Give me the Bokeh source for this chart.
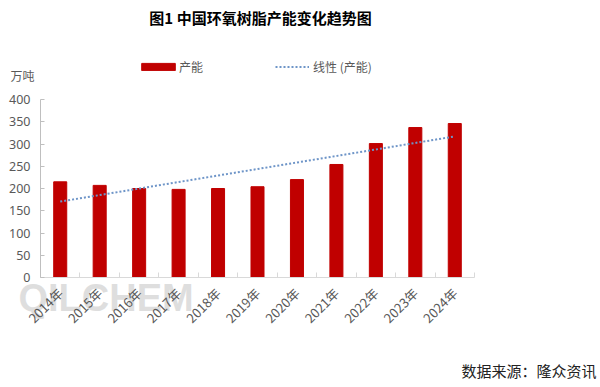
import numpy as np
from bokeh.plotting import figure
from bokeh.models import (ColumnDataSource, FixedTicker, Range1d, Label, Legend, LegendItem)
from bokeh.embed import file_html
from bokeh.resources import INLINE

# ---- data ----
years = ["2014年", "2015年", "2016年", "2017年", "2018年", "2019年",
         "2020年", "2021年", "2022年", "2023年", "2024年"]
capacity = [215, 207, 200, 198, 200, 204, 220, 254, 301, 337, 346]
y_ticks = [0, 50, 100, 150, 200, 250, 300, 350, 400]

title_text = "图1 中国环氧树脂产能变化趋势图"
unit_text = "万吨"
source_text = "数据来源：隆众资讯"
series_name = "产能"
trend_name = "线性 (产能)"

xs = list(range(len(years)))
# linear trend line of the series (Excel "linear" trendline)
slope, intercept = np.polyfit(xs, capacity, 1)
trend = [intercept + slope * x for x in xs]

src = ColumnDataSource(dict(x=xs, y=capacity, t=trend))

CJK = "Noto Sans CJK SC"
GRAY = "#595959"

# ---- layout (pixels) ----
W, H = 600, 387
AX_LEFT, AX_RIGHT = 40, 474      # plot area in page pixels
AX_TOP, AX_BOTTOM = 99, 277
n = len(years)
ymax = 400
px_x = (AX_RIGHT - AX_LEFT) / n
px_y = (AX_BOTTOM - AX_TOP) / ymax
x_lo = -0.5 - AX_LEFT / px_x
x_hi = n - 0.5 + (W - AX_RIGHT) / px_x
y_lo = -(H - AX_BOTTOM) / px_y
y_hi = ymax + AX_TOP / px_y

p = figure(width=W, height=H, output_backend="svg", toolbar_location=None,
           x_range=Range1d(x_lo, x_hi), y_range=Range1d(y_lo, y_hi),
           min_border=0, outline_line_color=None,
           background_fill_color="white", border_fill_color="white")

p.xgrid.visible = False
p.ygrid.visible = False

# watermark
p.add_layout(Label(x=18, y=H - 318, x_units="screen", y_units="screen",
                   text="QILCHEM", text_font="Liberation Sans", text_font_style="bold",
                   text_font_size="38px", text_color="#bdbdbd", text_alpha=0.5,
                   text_baseline="bottom", level="underlay"))

bars = p.vbar(x="x", top="y", width=0.33, source=src, color="#C00000")
tl = p.line(x="x", y="t", source=src, line_color="#6E95C8", line_width=2,
            line_dash="2 2")

# x axis
xa = p.xaxis[0]
xa.fixed_location = 0
xa.bounds = (-0.5, n - 0.5)
xa.ticker = FixedTicker(ticks=xs, minor_ticks=[i - 0.5 for i in range(n + 1)])
xa.major_label_overrides = {i: y for i, y in enumerate(years)}
xa.major_label_orientation = np.pi / 4
xa.major_tick_in = 0
xa.major_tick_out = 0
xa.minor_tick_in = 5
xa.minor_tick_out = 0
xa.minor_tick_line_color = "#d9d9d9"
xa.axis_line_color = "#d9d9d9"
xa.major_label_text_font = CJK
xa.major_label_text_font_size = "13px"
xa.major_label_text_color = GRAY
xa.major_label_standoff = 13

# y axis
ya = p.yaxis[0]
ya.fixed_location = -0.5
ya.bounds = (0, ymax)
ya.ticker = FixedTicker(ticks=y_ticks)
ya.minor_tick_line_color = None
ya.major_tick_in = 4
ya.major_tick_out = 0
ya.major_tick_line_color = "#bfbfbf"
ya.axis_line_color = "#bfbfbf"
ya.major_label_text_font = "Noto Sans"
ya.major_label_text_font_size = "12.5px"
ya.major_label_text_color = GRAY
ya.major_label_standoff = 10

# legends
leg1 = Legend(items=[LegendItem(label=series_name, renderers=[bars])],
              location=(137, H - 75), orientation="horizontal",
              glyph_width=42, glyph_height=9, label_height=9, label_standoff=0,
              padding=0, margin=0, border_line_color=None,
              background_fill_alpha=0, label_text_font=CJK,
              label_text_font_size="12px", label_text_color=GRAY)
leg2 = Legend(items=[LegendItem(label=trend_name, renderers=[tl])],
              location=(275, H - 75), orientation="horizontal",
              glyph_width=34, glyph_height=9, label_height=9, label_standoff=4,
              padding=0, margin=0, border_line_color=None,
              background_fill_alpha=0, label_text_font=CJK,
              label_text_font_size="12px", label_text_color=GRAY)
p.add_layout(leg1, "center")
p.add_layout(leg2, "center")

# texts
p.add_layout(Label(x=260, y=H - 17, x_units="screen", y_units="screen",
                   text=title_text, text_font=CJK, text_font_style="bold",
                   text_font_size="15px", text_color="#000000",
                   text_baseline="middle", text_align="center"))
p.add_layout(Label(x=10, y=H - 75, x_units="screen", y_units="screen",
                   text=unit_text, text_font=CJK, text_font_size="12px",
                   text_color=GRAY, text_baseline="middle"))
p.add_layout(Label(x=596, y=H - 370, x_units="screen", y_units="screen",
                   text=source_text, text_font=CJK, text_font_size="15px",
                   text_color="#222222", text_baseline="middle",
                   text_align="right"))

open("out.html", "w").write(file_html(p, INLINE))
